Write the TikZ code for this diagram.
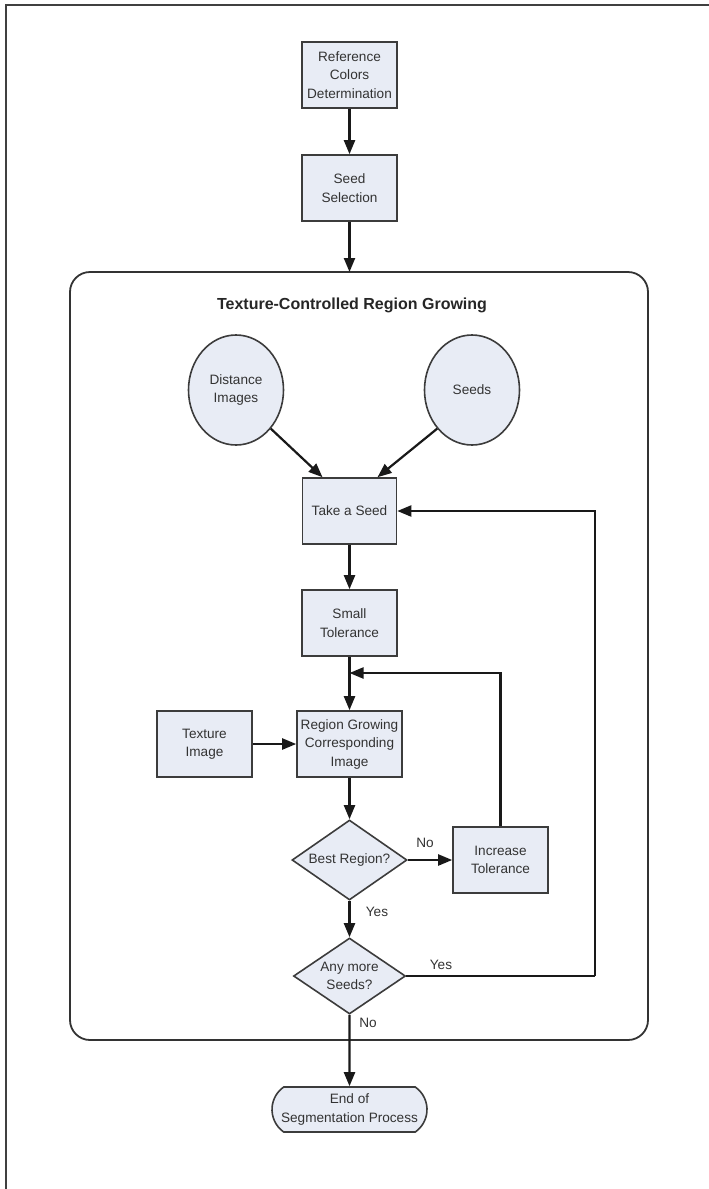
\documentclass[tikz,border=0pt]{standalone}
\usepackage{fontspec}
\setmainfont{Liberation Sans}
\usetikzlibrary{shapes.geometric,shapes.misc,arrows.meta}
\definecolor{boxfill}{HTML}{E8ECF5}
\definecolor{boxline}{HTML}{3C3C3C}
\definecolor{txt}{HTML}{333333}
\begin{document}
\begin{tikzpicture}[x=1pt,y=-1pt,
  base/.style={draw=boxline, line width=1.6pt, fill=boxfill, text=txt,
    font=\fontsize{13.6}{18.5}\selectfont, align=center, inner sep=0pt},
  procbox/.style={base, rectangle, minimum width=95pt, minimum height=66pt},
  databubble/.style={base, ellipse, minimum width=95pt, minimum height=110pt},
  decision/.style={base, diamond, aspect=1.45},
  terminal/.style={base, rounded rectangle, rounded rectangle arc length=110,
    minimum width=155pt, minimum height=45pt},
  conn/.style={line width=2.2pt, draw=black!90, -{Triangle[length=14pt,width=11pt]}},
  plain/.style={line width=2.2pt, draw=black!90},
  lbl/.style={text=txt, font=\fontsize{13.6}{16}\selectfont, inner sep=0pt},
  frameline/.style={line width=2pt, draw=black!75},
  container/.style={line width=1.8pt, draw=black!80, rounded corners=20pt}
]
\useasboundingbox (0,0) rectangle (709,1189);
\fill[white] (0,0) rectangle (709,1189);
% outer frame (only top and left visible)
\draw[frameline] (6,1189) -- (6,5) -- (709,5);

% container
\draw[container] (70,272) rectangle (648,1040);
\node[text=black!85, font=\bfseries\fontsize{16}{19}\selectfont, inner sep=0pt] (title) at (352,305) {Texture-Controlled Region Growing};

% nodes
\node[procbox] (ref) at (349.5,75) {Reference\\Colors\\Determination};
\node[procbox] (seedsel) at (349.5,188) {Seed\\Selection};
\coordinate (cTop) at (349.5,272);

\node[databubble] (dist) at (236,390) {Distance\\Images};
\node[databubble] (seeds) at (472,390) {Seeds};

\node[procbox, minimum width=94pt] (take) at (349.5,511) {Take a Seed};
\node[procbox] (small) at (349.5,623) {Small\\Tolerance};
\node[procbox, minimum width=105pt] (rg) at (349.5,744) {Region Growing\\Corresponding\\Image};
\node[procbox] (tex) at (204.5,744) {Texture\\Image};

\node[decision, minimum width=115pt, minimum height=80pt] (best) at (349.5,860) {Best Region?};
\node[procbox] (inc) at (500.5,860) {Increase\\Tolerance};
\node[decision, minimum width=112pt, minimum height=76pt] (any) at (349.5,976) {Any more\\Seeds?};

\node[terminal] (endp) at (349.5,1109.5) {End of\\Segmentation Process};

% helper coordinates
\coordinate (fbR) at (595,976);
\coordinate (loopJ) at (349.5,673);

% connectors
\draw[conn] (ref) -- (seedsel);
\draw[conn] (seedsel) -- (cTop);
\draw[conn] (dist.-48) -- ([xshift=-27pt]take.north);
\draw[conn] (seeds.-132) -- ([xshift=28pt]take.north);
\draw[conn] (take) -- (small);
\draw[conn] (small) -- (rg);
\draw[conn] (tex) -- (rg);
\draw[conn] (rg) -- (best);
\draw[conn] (best) -- (inc);
\draw[conn] (inc.north) |- (loopJ);
\draw[conn] (best) -- (any);
\draw[plain] (any.east) -- (fbR);
\draw[conn] (fbR) |- (take.east);
\draw[conn] (any) -- (endp);

% labels
\node[lbl] (lNo1) at (425,843) {No};
\node[lbl] (lYes1) at (377,912) {Yes};
\node[lbl] (lYes2) at (441,965) {Yes};
\node[lbl] (lNo2) at (368,1023) {No};
\end{tikzpicture}
\end{document}
